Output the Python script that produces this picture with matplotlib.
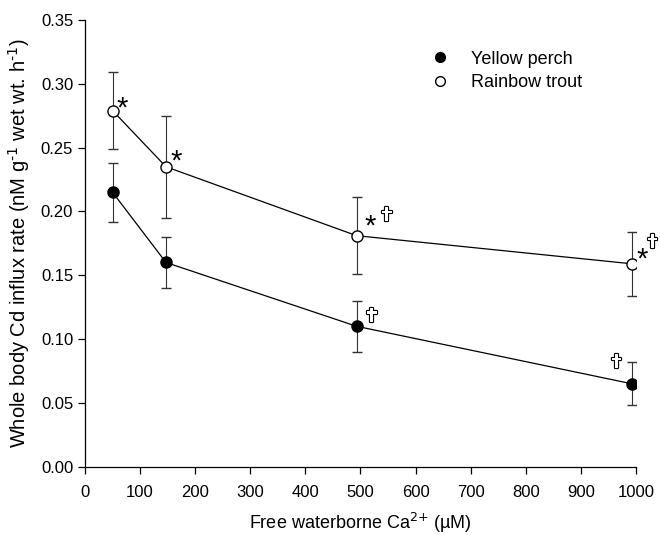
import matplotlib
matplotlib.use('Agg')
import matplotlib.pyplot as plt
import matplotlib.patheffects as pe
from matplotlib.lines import Line2D

plt.rcParams['font.family'] = ['Liberation Sans', 'DejaVu Sans']
plt.rcParams['mathtext.default'] = 'regular'

# Data
calcium = [50, 147, 493, 992]
perch = [0.215, 0.160, 0.110, 0.065]
perch_err = [0.023, 0.020, 0.020, 0.017]
trout = [0.279, 0.235, 0.181, 0.159]
trout_err = [0.030, 0.040, 0.030, 0.025]
x_ticks = [0, 100, 200, 300, 400, 500, 600, 700, 800, 900, 1000]
y_ticks = [0.00, 0.05, 0.10, 0.15, 0.20, 0.25, 0.30, 0.35]

fig = plt.figure(figsize=(6.6, 5.35), dpi=100)
ax = fig.add_axes([0.1288, 0.1277, 0.8348, 0.8349])

ax.errorbar(calcium, perch, yerr=perch_err, color='black', lw=0.9,
            marker='o', ms=8, mfc='black', mec='black', capsize=3.5,
            elinewidth=0.8, ecolor='#333333', zorder=3)
ax.errorbar(calcium, trout, yerr=trout_err, color='black', lw=0.9,
            marker='o', ms=8, mfc='white', mec='black', capsize=3.5,
            elinewidth=0.8, ecolor='#333333', zorder=3)

# significance marks (* vs perch, cross vs lowest Ca)
star = dict(fontsize=21, ha='center', va='center', textcoords='offset pixels')
cross = dict(fontsize=14, ha='center', va='center', textcoords='offset pixels',
             family=['DejaVu Sans'], color='white',
             path_effects=[pe.withStroke(linewidth=1.6, foreground='black')])
ax.annotate('*', (calcium[0], trout[0]), xytext=(10, 2), **star)
ax.annotate('*', (calcium[1], trout[1]), xytext=(10, 5), **star)
ax.annotate('*', (calcium[2], trout[2]), xytext=(14, 9), **star)
ax.annotate('*', (calcium[3], trout[3]), xytext=(11, 4), **star)
ax.annotate('\u271D', (calcium[2], trout[2]), xytext=(30, 20), **cross)
ax.annotate('\u271D', (calcium[3], trout[3]), xytext=(21, 21), **cross)
ax.annotate('\u271D', (calcium[2], perch[2]), xytext=(15, 10), **cross)
ax.annotate('\u271D', (calcium[3], perch[3]), xytext=(-15, 21), **cross)

ax.set_xlim(0, 1000)
ax.set_ylim(0, 0.35)
ax.set_xticks(x_ticks)
ax.set_yticks(y_ticks)
ax.set_yticklabels(['%.2f' % v for v in y_ticks])
ax.spines['top'].set_visible(False)
ax.spines['right'].set_visible(False)
ax.spines['left'].set_linewidth(0.9)
ax.spines['bottom'].set_linewidth(0.9)
ax.tick_params(direction='out', length=5, width=0.9, labelsize=12)
ax.tick_params(axis='x', pad=8)

ax.set_xlabel(r'Free waterborne Ca$^{\text{2+}}$ (µM)', fontsize=13, labelpad=8)
ax.set_ylabel(r'Whole body Cd influx rate (nM g$^{\text{-1}}$ wet wt. h$^{\text{-1}}$)',
              fontsize=14.5, labelpad=6)

handles = [Line2D([], [], ls='none', marker='o', ms=7, mfc='black', mec='black'),
           Line2D([], [], ls='none', marker='o', ms=7, mfc='white', mec='black')]
ax.legend(handles, ['Yellow perch', 'Rainbow trout'], frameon=False, loc='upper left',
          bbox_to_anchor=(0.605, 0.968), fontsize=13, handlelength=0.6,
          handletextpad=1.4, labelspacing=0.35)

fig.savefig('out.png', dpi=100)
